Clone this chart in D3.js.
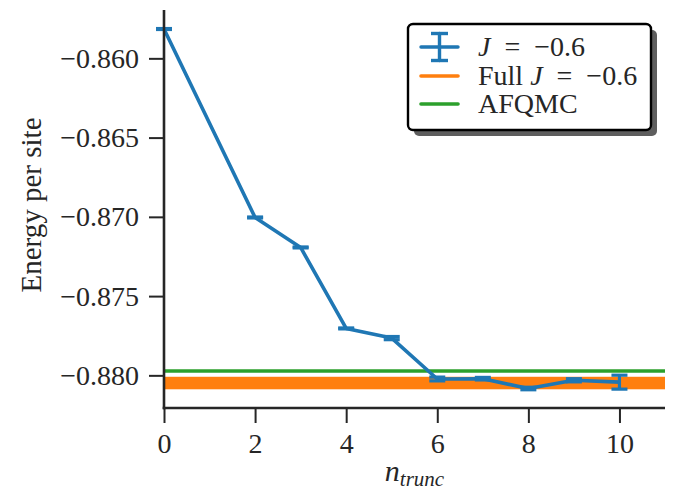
<!DOCTYPE html>
<html><head><meta charset="utf-8">
<script src="https://cdn.jsdelivr.net/npm/d3@7"></script>
<style>
body{margin:0;background:#fff}
text{font-family:"Liberation Serif","Times New Roman",serif;fill:#262626}
</style>
</head><body>
<svg id="c" width="686" height="490"></svg>
<script>
// ---- data ----
const nTrunc    = [0, 2, 3, 4, 5, 6, 7, 8, 9, 10];
const energy    = [-0.85815, -0.87004, -0.87193, -0.87704, -0.87765, -0.88023, -0.88021, -0.88083, -0.88031, -0.88043];
const energyErr = [0.00003, 0.00003, 0.00003, 0.00003, 0.0001, 0.00012, 0.00008, 0.00008, 0.0001, 0.00044];
const fullJBand = [-0.88088, -0.88009];   // full J = -0.6 (band)
const afqmcValue = [-0.87973];
const xTicks = [0, 2, 4, 6, 8, 10];
const yTicks = [-0.880, -0.875, -0.870, -0.865, -0.860];
const xDomain = [0, 11];
const yDomain = [-0.88206, -0.85695];
const legendLabels = ["J = −0.6", "Full J = −0.6", "AFQMC"];

const C_BLUE = "#1f77b4", C_ORANGE = "#ff7f0e", C_GREEN = "#2ca02c", C_AX = "#262626";

const svg = d3.select("#c");
const L = 164, R = 665, T = 10, B = 408;
const x = d3.scaleLinear().domain(xDomain).range([L, R]);
const y = d3.scaleLinear().domain(yDomain).range([B, T]);

// orange band
svg.append("rect")
  .attr("x", x(xDomain[0])).attr("width", x(xDomain[1]) - x(xDomain[0]))
  .attr("y", y(fullJBand[1])).attr("height", y(fullJBand[0]) - y(fullJBand[1]))
  .attr("fill", C_ORANGE);
// green line
svg.selectAll("line.afq").data(afqmcValue).enter().append("line")
  .attr("x1", x(xDomain[0])).attr("x2", x(xDomain[1]))
  .attr("y1", d => y(d)).attr("y2", d => y(d))
  .attr("stroke", C_GREEN).attr("stroke-width", 3.4);

// blue series
const pts = nTrunc.map((n, i) => ({n, e: energy[i], s: energyErr[i]}));
svg.append("path").datum(pts)
  .attr("d", d3.line().x(d => x(d.n)).y(d => y(d.e)))
  .attr("fill", "none").attr("stroke", C_BLUE).attr("stroke-width", 3.6).attr("stroke-linejoin", "round");
const eb = svg.append("g").attr("stroke", C_BLUE).attr("stroke-width", 3.2);
pts.forEach(d => {
  const cx = x(d.n), y1 = y(d.e + d.s), y2 = y(d.e - d.s);
  eb.append("line").attr("x1", cx).attr("x2", cx).attr("y1", y1).attr("y2", y2);
  eb.append("line").attr("x1", cx - 8).attr("x2", cx + 8).attr("y1", y1).attr("y2", y1);
  eb.append("line").attr("x1", cx - 8).attr("x2", cx + 8).attr("y1", y2).attr("y2", y2);
});

// axes
const fmt = d3.format(".3f");
const gy = svg.append("g").attr("transform", `translate(${L},0)`)
  .call(d3.axisLeft(y).tickValues(yTicks).tickFormat(fmt).tickSize(15).tickSizeOuter(0).tickPadding(10));
const gx = svg.append("g").attr("transform", `translate(0,${B})`)
  .call(d3.axisBottom(x).tickValues(xTicks).tickFormat(d3.format("d")).tickSize(15).tickSizeOuter(0).tickPadding(10));
[gy, gx].forEach(g => {
  g.select(".domain").attr("stroke", C_AX).attr("stroke-width", 2.6);
  g.selectAll(".tick line").attr("stroke", C_AX).attr("stroke-width", 2);
  g.selectAll(".tick text").attr("fill", C_AX).style("font-size", "28px");
});
gy.select(".domain").attr("d", `M0,${B + 1.3}V${T}`);
gx.select(".domain").attr("d", `M${L - 1.3},0H${R}`);

// axis labels
svg.append("text").attr("transform", `translate(41,205) rotate(-90)`)
  .attr("text-anchor", "middle").style("font-size", "29px").text("Energy per site");
const xl = svg.append("text").attr("x", x(5.5)).attr("y", 481).attr("text-anchor", "middle")
  .style("font-size", "30px");
xl.append("tspan").style("font-style", "italic").text("n");
xl.append("tspan").attr("dy", 5).style("font-style", "italic").style("font-size", "21px").text("trunc");

// legend
const lg = svg.append("g");
const bx = 408, by = 24, bw = 243, bh = 106;
lg.append("rect").attr("x", bx + 6).attr("y", by + 6).attr("width", bw).attr("height", bh)
  .attr("rx", 5).attr("fill", "#555").attr("opacity", 0.95);
lg.append("rect").attr("x", bx).attr("y", by).attr("width", bw).attr("height", bh)
  .attr("rx", 5).attr("fill", "#fff").attr("stroke", "#000").attr("stroke-width", 2.4);
const rows = [47, 76, 104];
// row 1: errorbar handle
const h = lg.append("g").attr("stroke", C_BLUE).attr("stroke-width", 3.4).attr("stroke-linecap", "round");
h.append("line").attr("x1", 421).attr("x2", 458).attr("y1", rows[0]).attr("y2", rows[0]);
h.append("line").attr("x1", 439.5).attr("x2", 439.5).attr("y1", rows[0] - 13.5).attr("y2", rows[0] + 13.5);
h.append("line").attr("x1", 431).attr("x2", 448).attr("y1", rows[0] - 13.5).attr("y2", rows[0] - 13.5).attr("stroke-linecap", "butt");
h.append("line").attr("x1", 431).attr("x2", 448).attr("y1", rows[0] + 13.5).attr("y2", rows[0] + 13.5).attr("stroke-linecap", "butt");
lg.append("line").attr("x1", 421).attr("x2", 458).attr("y1", rows[1]).attr("y2", rows[1])
  .attr("stroke", C_ORANGE).attr("stroke-width", 3.6).attr("stroke-linecap", "round");
lg.append("line").attr("x1", 421).attr("x2", 458).attr("y1", rows[2]).attr("y2", rows[2])
  .attr("stroke", C_GREEN).attr("stroke-width", 3.6).attr("stroke-linecap", "round");

function mathLabel(g, ty, prefix) {
  const t = g.append("text").attr("x", 478).attr("y", ty + 9).style("font-size", "28px");
  if (prefix) t.append("tspan").text(prefix + "\u00a0");
  t.append("tspan").style("font-style", "italic").text("J");
  t.append("tspan").text("\u2002=\u2002−0.6");
}
mathLabel(lg, rows[0], "");
mathLabel(lg, rows[1], "Full");
lg.append("text").attr("x", 478).attr("y", rows[2] + 9).style("font-size", "28px").text(legendLabels[2]);
</script>
</body></html>
